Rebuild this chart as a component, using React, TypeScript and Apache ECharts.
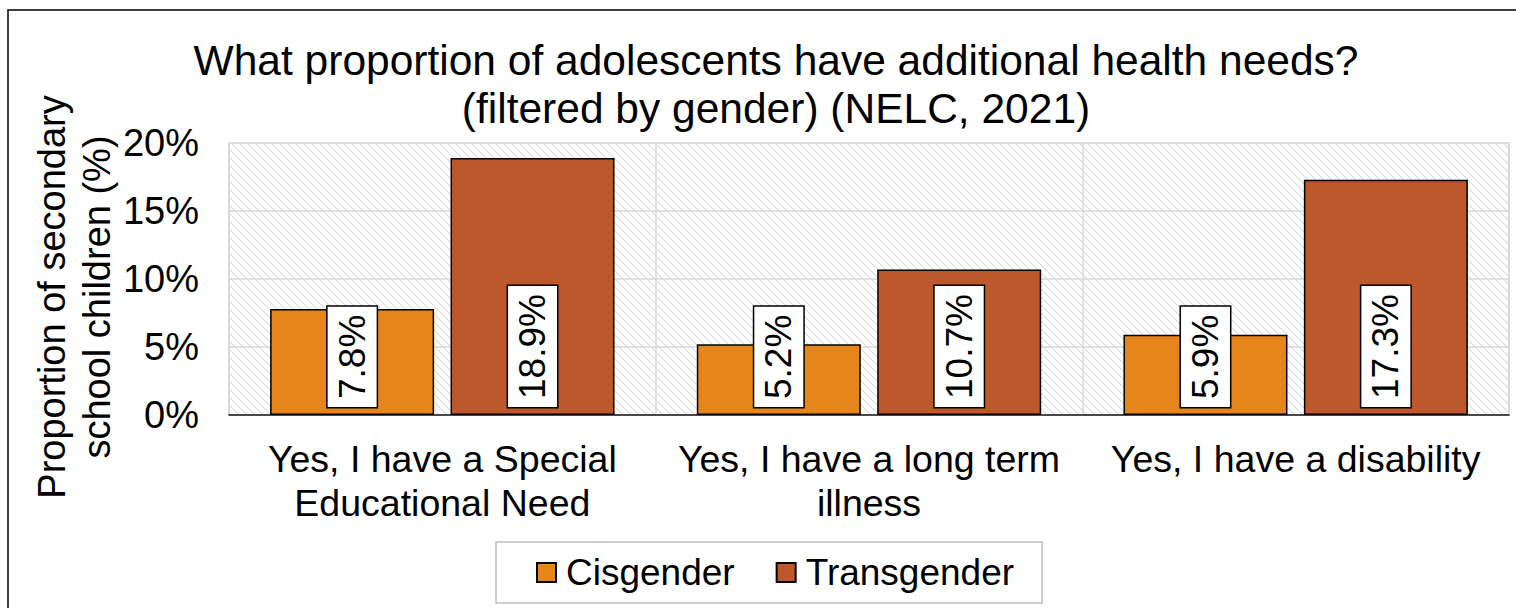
import React, { useEffect, useRef } from "react";
import * as echarts from "echarts";

const categories = [
  "Yes, I have a Special\nEducational Need",
  "Yes, I have a long term\nillness",
  "Yes, I have a disability",
];
const cisgender = [0.078, 0.052, 0.059];
const transgender = [0.189, 0.107, 0.173];
const yTicks = [0, 0.05, 0.1, 0.15, 0.2];
const titleText = "What proportion of adolescents have additional health needs?\n(filtered by gender) (NELC, 2021)";
const yTitle = "Proportion of secondary\nschool children (%)";

const FONT = "Liberation Sans, Arial, sans-serif";

function makeHatch() {
  const size = 8;
  const c = document.createElement("canvas");
  c.width = size;
  c.height = size;
  const ctx = c.getContext("2d")!;
  ctx.fillStyle = "#ffffff";
  ctx.fillRect(0, 0, size, size);
  for (let y = 0; y < size; y++) {
    for (let x = 0; x < size; x++) {
      const d = (((x - y) % size) + size) % size;
      if (d === 0 || d === 1) {
        ctx.fillStyle = (x + y) % 2 === 0 ? "#d8d8d8" : "#f2f2f2";
        ctx.fillRect(x, y, 1, 1);
      }
    }
  }
  return c;
}

export default function App() {
  const ref = useRef<HTMLDivElement>(null);
  useEffect(() => {
    if (!ref.current) return;
    const chart = echarts.init(ref.current, null, { renderer: "svg" });
    const hatch = makeHatch();
    const labelOpt = {
      show: true,
      position: "insideBottom",
      distance: 8,
      rotate: 90,
      align: "left",
      verticalAlign: "middle",
      backgroundColor: "#ffffff",
      borderColor: "#000000",
      borderWidth: 1.5,
      padding: [6, 8, 6, 8],
      fontSize: 37,
      fontFamily: FONT,
      color: "#000",
      formatter: (p: any) => (p.value * 100).toFixed(1) + "%",
    };
    chart.setOption({
      animation: false,
      backgroundColor: "#ffffff",
      title: {
        text: titleText,
        left: 771,
        top: 31,
        textAlign: "center",
        textStyle: {
          fontSize: 42.5,
          fontWeight: "normal",
          fontFamily: FONT,
          color: "#000",
          lineHeight: 48,
        },
      },
      legend: {
        left: 496,
        top: 542,
        itemWidth: 19,
        itemHeight: 19,
        itemGap: 41,
        padding: [12, 28, 12, 40],
        borderColor: "#bfbfbf",
        borderWidth: 1.5,
        icon: "rect",
        textStyle: { fontSize: 37, fontFamily: FONT, color: "#000", padding: [0, 0, 0, 5] },
        data: ["Cisgender", "Transgender"],
      },
      grid: {
        left: 229,
        right: 7,
        top: 143,
        bottom: 193,
        show: true,
        borderColor: "#d9d9d9",
        borderWidth: 1.5,
        backgroundColor: { image: hatch, repeat: "repeat", imageWidth: 8, imageHeight: 8 } as any,
      },
      xAxis: {
        type: "category",
        data: categories,
        axisTick: { show: false },
        axisLine: { show: true, lineStyle: { color: "#1a1a1a", width: 1.5 } },
        splitLine: { show: true, lineStyle: { color: "#d9d9d9", width: 1.5 } },
        axisLabel: {
          fontSize: 37.5,
          fontFamily: FONT,
          color: "#000",
          lineHeight: 44,
          margin: 22,
          interval: 0,
        },
      },
      yAxis: {
        type: "value",
        min: yTicks[0],
        max: yTicks[yTicks.length - 1],
        interval: 0.05,
        axisLine: { show: false },
        axisTick: { show: false },
        splitLine: { show: true, lineStyle: { color: "#d9d9d9", width: 1.5 } },
        axisLabel: {
          fontSize: 38,
          fontFamily: FONT,
          color: "#000",
          margin: 30,
          formatter: (v: number) => Math.round(v * 100) + "%",
        },
      },
      series: [
        {
          name: "Cisgender",
          type: "bar",
          data: cisgender,
          barWidth: 164,
          barGap: "10%",
          itemStyle: { color: "#E6861A", borderColor: "#000", borderWidth: 1.5 },
          label: labelOpt,
        },
        {
          name: "Transgender",
          type: "bar",
          data: transgender,
          barWidth: 164,
          barGap: "10%",
          itemStyle: { color: "#BD582D", borderColor: "#000", borderWidth: 1.5 },
          label: labelOpt,
        },
      ],
      graphic: [
        {
          type: "rect",
          shape: { x: 8, y: 10, width: 1560, height: 640 },
          style: { fill: "none", stroke: "#000", lineWidth: 1.5 },
          z: 100,
          silent: true,
        },
        {
          type: "text",
          x: 74,
          y: 297,
          rotation: Math.PI / 2,
          style: {
            text: yTitle,
            font: `38px ${FONT}`,
            fill: "#000",
            textAlign: "center",
            textVerticalAlign: "middle",
            lineHeight: 45,
          },
        },
      ],
    });
    return () => chart.dispose();
  }, []);
  return (
    <div
      ref={ref}
      style={{ position: "fixed", left: 0, top: 0, width: 1516, height: 608 }}
    />
  );
}
